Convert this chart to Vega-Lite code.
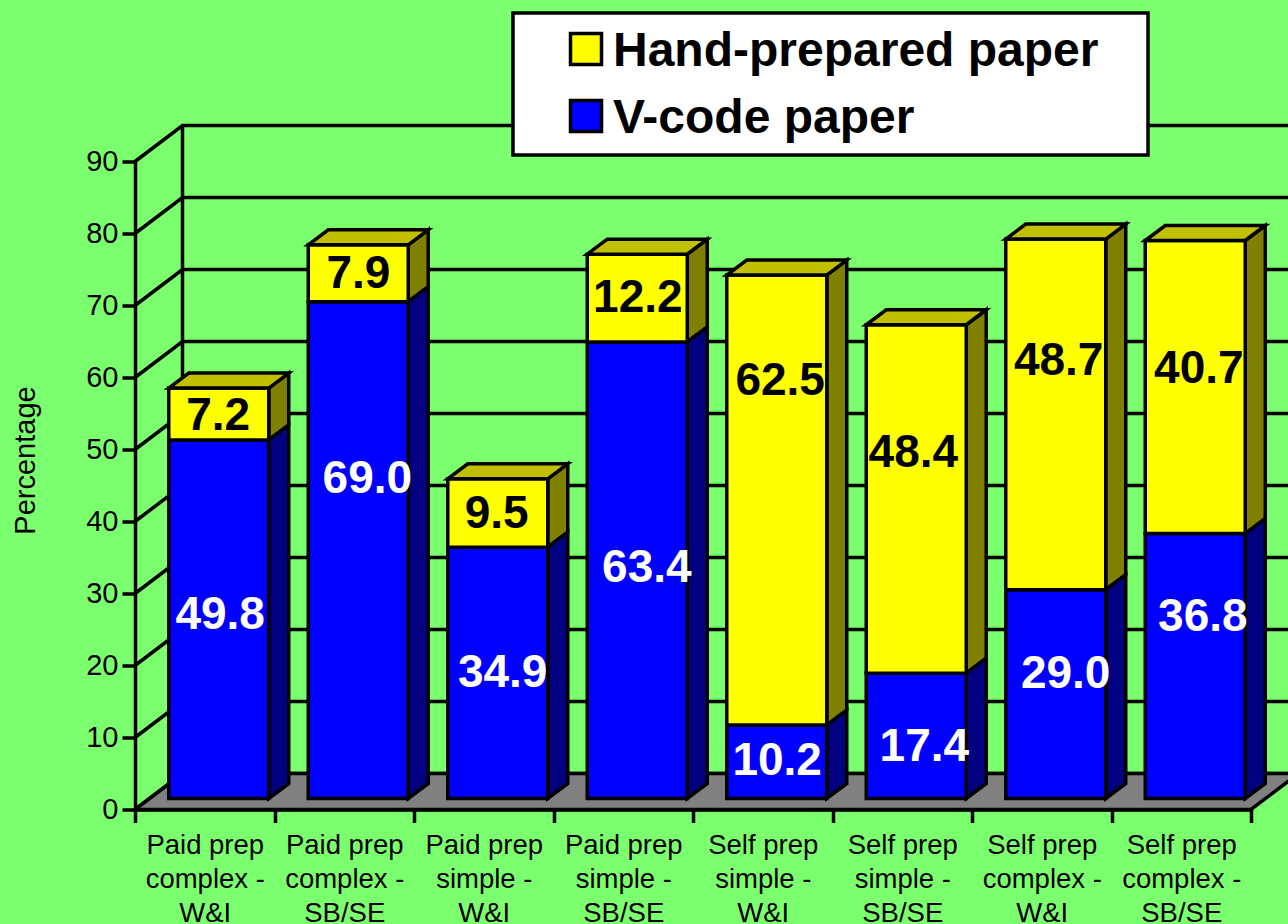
{
"$schema":"https://vega.github.io/schema/vega-lite/v6.json",
"width":1116,"height":648,"autosize":{"type":"none"},
"padding":{"left":135,"top":161.5,"right":37,"bottom":114.5},
"background":"#7CFF6E",
"config":{"view":{"stroke":null},"font":"Liberation Sans","legend":{"strokeWidth":3.5}},
"datasets":{
"ticks":[{"tick":0},{"tick":10},{"tick":20},{"tick":30},{"tick":40},{"tick":50},{"tick":60},{"tick":70},{"tick":80},{"tick":90}],
"bars":[
{"category":"Paid prep complex - W&I","series":"V-code paper","value":49.8,"plane":["front","back"]},
{"category":"Paid prep complex - W&I","series":"Hand-prepared paper","value":7.2,"plane":["front","back"]},
{"category":"Paid prep complex - SB/SE","series":"V-code paper","value":69.0,"plane":["front","back"]},
{"category":"Paid prep complex - SB/SE","series":"Hand-prepared paper","value":7.9,"plane":["front","back"]},
{"category":"Paid prep simple - W&I","series":"V-code paper","value":34.9,"plane":["front","back"]},
{"category":"Paid prep simple - W&I","series":"Hand-prepared paper","value":9.5,"plane":["front","back"]},
{"category":"Paid prep simple - SB/SE","series":"V-code paper","value":63.4,"plane":["front","back"]},
{"category":"Paid prep simple - SB/SE","series":"Hand-prepared paper","value":12.2,"plane":["front","back"]},
{"category":"Self prep simple - W&I","series":"V-code paper","value":10.2,"plane":["front","back"]},
{"category":"Self prep simple - W&I","series":"Hand-prepared paper","value":62.5,"plane":["front","back"]},
{"category":"Self prep simple - SB/SE","series":"V-code paper","value":17.4,"plane":["front","back"]},
{"category":"Self prep simple - SB/SE","series":"Hand-prepared paper","value":48.4,"plane":["front","back"]},
{"category":"Self prep complex - W&I","series":"V-code paper","value":29.0,"plane":["front","back"]},
{"category":"Self prep complex - W&I","series":"Hand-prepared paper","value":48.7,"plane":["front","back"]},
{"category":"Self prep complex - SB/SE","series":"V-code paper","value":36.8,"plane":["front","back"]},
{"category":"Self prep complex - SB/SE","series":"Hand-prepared paper","value":40.7,"plane":["front","back"]}
]},
"layer":[
{"data":{"name":"ticks"},
 "mark":{"type":"point","shape":"M0,0L0.475,-0.36L11.65,-0.36","size":40000,"filled":false,"stroke":"#000","strokeWidth":3.5,"opacity":1,"fill":null},
 "encoding":{
  "x":{"datum":"Paid prep complex - W&I","type":"nominal","bandPosition":0,"scale":{"type":"band","paddingInner":0,"paddingOuter":0,"domain":["Paid prep complex - W&I","Paid prep complex - SB/SE","Paid prep simple - W&I","Paid prep simple - SB/SE","Self prep simple - W&I","Self prep simple - SB/SE","Self prep complex - W&I","Self prep complex - SB/SE"]},
   "axis":{"title":null,"orient":"bottom","domainColor":"#000","domainWidth":3.5,"tickColor":"#000","tickWidth":3.5,"tickSize":13,"tickBand":"extent","labelAngle":0,"labelAlign":"center","labelBaseline":"top","labelFont":"Liberation Sans","labelFontSize":27.5,"labelColor":"#000","labelPadding":9,"labelLineHeight":34,"labelLimit":300,
    "labelExpr":"length(split(datum.label,' '))<5?'':[split(datum.label,' ')[0]+' '+split(datum.label,' ')[1],split(datum.label,' ')[2]+' -',split(datum.label,' ')[4]]"}},
  "y":{"field":"tick","type":"quantitative","scale":{"domain":[0,90],"nice":false},
   "axis":{"title":"Percentage","values":[0,10,20,30,40,50,60,70,80,90],"grid":false,"domainColor":"#000","domainWidth":3.5,"tickColor":"#000","tickWidth":3.5,"tickSize":13,"labelFont":"Liberation Sans","labelFontSize":29,"labelColor":"#000","labelPadding":4,"titleFont":"Liberation Sans","titleFontSize":29,"titleFontWeight":"normal","titleColor":"#000","titleX":-110,"titleY":298.5,"titleBaseline":"middle"}}
 }},
{"data":{"values":[{"wall":"back"}]},
 "mark":{"type":"point","shape":"M0.475,-0.36L0.475,-6.84","size":40000,"filled":false,"stroke":"#000","strokeWidth":3.5,"opacity":1},
 "encoding":{"x":{"datum":"Paid prep complex - W&I","type":"nominal","bandPosition":0},"y":{"datum":0,"type":"quantitative"}}},
{"data":{"values":[{"wall":"floor"}]},
 "mark":{"type":"point","shape":"M0,0L11.16,0L11.635,-0.36L0.475,-0.36Z","size":40000,"filled":true,"fill":"#808080","stroke":"#000","strokeWidth":3.5,"opacity":1},
 "encoding":{"x":{"datum":"Paid prep complex - W&I","type":"nominal","bandPosition":0},"y":{"datum":0,"type":"quantitative"}}},
{"data":{"name":"bars"},
 "transform":[{"flatten":["plane"]},{"stack":"value","groupby":["category","plane"],"sort":[{"field":"series","order":"descending"}],"as":["y0","y1"]},{"filter":"datum.series=='Hand-prepared paper'"}],
 "mark":{"type":"area","fill":"#808000","stroke":"#000","strokeWidth":3.5,"opacity":1,"xOffset":{"expr":"datum.plane=='back'?84:64"},"yOffset":{"expr":"datum.plane=='back'?-26:-11"},"y2Offset":{"expr":"datum.plane=='back'?-26:-11"}},
 "encoding":{"x":{"field":"category","type":"nominal"},"detail":{"field":"category"},
  "y":{"field":"y1","type":"quantitative"},"y2":{"field":"y0"}}},
{"data":{"name":"bars"},
 "transform":[{"flatten":["plane"]},{"stack":"value","groupby":["category","plane"],"sort":[{"field":"series","order":"descending"}],"as":["y0","y1"]},{"filter":"datum.series=='V-code paper'"}],
 "mark":{"type":"area","fill":"#000080","stroke":"#000","strokeWidth":3.5,"opacity":1,"xOffset":{"expr":"datum.plane=='back'?84:64"},"yOffset":{"expr":"datum.plane=='back'?-26:-11"},"y2Offset":{"expr":"datum.plane=='back'?-26:-11"}},
 "encoding":{"x":{"field":"category","type":"nominal"},"detail":{"field":"category"},
  "y":{"field":"y1","type":"quantitative"},"y2":{"field":"y0"}}},
{"data":{"name":"bars"},
 "transform":[{"stack":"value","groupby":["category"],"sort":[{"field":"series","order":"descending"}],"as":["y0","y1"]}],
 "mark":{"type":"bar","size":100,"xOffset":14,"yOffset":-11,"y2Offset":-11,"stroke":"#000","strokeWidth":3.5,"opacity":1},
 "encoding":{"x":{"field":"category","type":"nominal"},
  "y":{"field":"y1","type":"quantitative"},"y2":{"field":"y0"},
  "color":{"field":"series","type":"nominal","scale":{"domain":["Hand-prepared paper","V-code paper"],"range":["#FFFF00","#0000FF"]},
   "legend":{"title":"\u2014","titleOrient":"right","titleFontSize":38,"titleOpacity":0,"titlePadding":0,"orient":"none","legendX":378,"legendY":-148.5,"fillColor":"#fff","strokeColor":"#000","padding":12,"symbolType":"square","symbolSize":961,"symbolStrokeColor":"#000","symbolStrokeWidth":3.5,"symbolOffset":37,"labelFont":"Liberation Sans","labelFontSize":48,"labelFontWeight":"bold","labelColor":"#000","labelLimit":800,"labelOffset":3,"rowPadding":16,"encoding":{"labels":{"dy":{"value":2.5}}}}}}},
{"data":{"name":"bars"},
 "transform":[{"stack":"value","groupby":["category"],"sort":[{"field":"series","order":"descending"}],"as":["y0","y1"]},{"filter":"datum.series=='Hand-prepared paper'"}],
 "mark":{"type":"point","shape":"M-0.5,0L-0.3,-0.15L0.7,-0.15L0.5,0Z","size":40000,"filled":true,"fill":"#C0C000","stroke":"#000","strokeWidth":3.5,"opacity":1,"xOffset":14,"yOffset":-11},
 "encoding":{"x":{"field":"category","type":"nominal"},"y":{"field":"y1","type":"quantitative"}}},
{"data":{"name":"bars"},
 "transform":[{"stack":"value","groupby":["category"],"sort":[{"field":"series","order":"descending"}],"as":["y0","y1"]}],
 "mark":{"type":"text","font":"Liberation Sans","fontSize":46,"fontWeight":"bold","baseline":"middle","align":"center",
  "xOffset":{"expr":"[15.4,23.1,18.9,23.6,14.4,22.1,23.9,21.6,13.4,14.1,12.9,14.6,17.4,11.1,16.9,17.6][indexof([49.8,69.0,34.9,63.4,10.2,17.4,29.0,36.8,7.2,7.9,9.5,12.2,62.5,48.4,48.7,40.7],datum.value)]"},
  "yOffset":{"expr":"[163.6,165.8,114.3,214.5,25.4,62.3,72.8,72,16.4,17.7,23.7,33.3,95.4,116.8,111.4,117][indexof([49.8,69.0,34.9,63.4,10.2,17.4,29.0,36.8,7.2,7.9,9.5,12.2,62.5,48.4,48.7,40.7],datum.value)]"}},
 "encoding":{"x":{"field":"category","type":"nominal"},"y":{"field":"y1","type":"quantitative"},
  "text":{"field":"value","type":"quantitative","format":".1f"},
  "fill":{"field":"series","type":"nominal","scale":{"domain":["Hand-prepared paper","V-code paper"],"range":["#000000","#FFFFFF"]},"legend":null}}}
]}
